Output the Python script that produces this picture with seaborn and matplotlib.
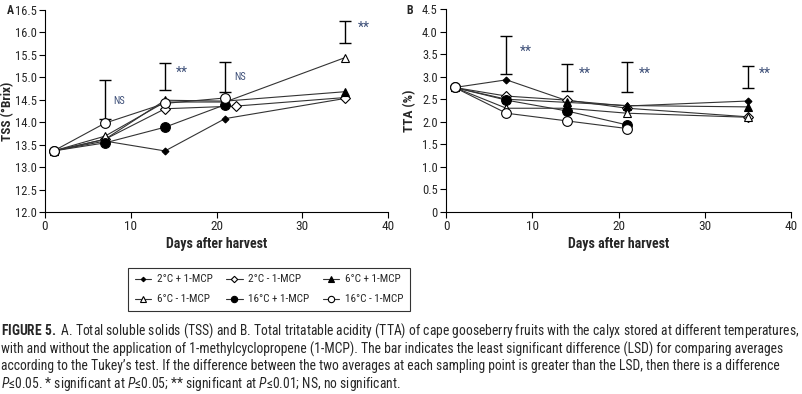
import matplotlib
matplotlib.use("Agg")
import matplotlib.pyplot as plt
import seaborn as sns
import pandas as pd
import numpy as np

# ---------------- data ----------------
labels = ["2°C + 1-MCP", "2°C - 1-MCP", "6°C + 1-MCP",
          "6°C - 1-MCP", "16°C + 1-MCP", "16°C - 1-MCP"]

days_long = [1, 7, 14, 21, 35]
days_short = [1, 7, 14, 21]
days_tss_2m = [1, 7, 14, 22.3, 35]

tss_2p = [13.36, 13.58, 13.36, 14.08, 14.53]
tss_2m = [13.36, 13.62, 14.30, 14.36, 14.55]
tss_6p = [13.36, 13.62, 14.49, 14.47, 14.68]
tss_6m = [13.36, 13.69, 14.45, 14.45, 15.44]
tss_16p = [13.36, 13.54, 13.89, 14.39]
tss_16m = [13.36, 13.98, 14.42, 14.54]

tta_2p = [2.76, 2.93, 2.47, 2.35, 2.46]
tta_2m = [2.76, 2.57, 2.48, 2.30, 2.11]
tta_6p = [2.76, 2.50, 2.43, 2.36, 2.33]
tta_6m = [2.76, 2.30, 2.30, 2.19, 2.10]
tta_16p = [2.76, 2.48, 2.24, 1.93]
tta_16m = [2.76, 2.19, 2.02, 1.85]

lsd_days = [7, 14, 21, 35]
tss_lsd_low = [14.08, 14.71, 14.68, 15.76]
tss_lsd_high = [14.95, 15.31, 15.35, 16.26]
tta_lsd_low = [3.05, 2.68, 2.65, 2.74]
tta_lsd_high = [3.91, 3.28, 3.32, 3.23]

tss_sig = ["NS", "**", "NS", "**"]
tss_sig_x = [8.7, 16.0, 22.8, 37.2]
tss_sig_y = [14.48, 15.10, 15.00, 16.10]
tta_sig = ["**", "**", "**", "**"]
tta_sig_x = [9.2, 16.1, 23.1, 37.0]
tta_sig_y = [3.54, 3.06, 3.06, 3.06]

# ---------------- style ----------------
sns.set_style("ticks")
FONT = 'Roboto Condensed'
plt.rcParams['font.family'] = [FONT, 'DejaVu Sans']
plt.rcParams['mathtext.fontset'] = 'custom'
plt.rcParams['mathtext.rm'] = FONT
plt.rcParams['mathtext.it'] = FONT + ':italic'
plt.rcParams['mathtext.bf'] = FONT + ':bold'

styles = [
    dict(marker="D", ms=3.5, mfc="black", mec="black"),
    dict(marker="D", ms=5, mfc="white", mec="black"),
    dict(marker="^", ms=6, mfc="black", mec="black"),
    dict(marker="^", ms=6, mfc="white", mec="black"),
    dict(marker="o", ms=7, mfc="black", mec="black"),
    dict(marker="o", ms=7, mfc="white", mec="black"),
]

fig = plt.figure(figsize=(8.02, 3.94), dpi=100)
W, H = 802, 394
axA = fig.add_axes([45 / W, 1 - 212 / H, (388 - 45) / W, (212 - 10) / H])
axB = fig.add_axes([446 / W, 1 - 212 / H, (791 - 446) / W, (212 - 9) / H])

tss_series = [(days_long, tss_2p), (days_tss_2m, tss_2m), (days_long, tss_6p),
              (days_long, tss_6m), (days_short, tss_16p), (days_short, tss_16m)]
tta_series = [(days_long, tta_2p), (days_long, tta_2m), (days_long, tta_6p),
              (days_long, tta_6m), (days_short, tta_16p), (days_short, tta_16m)]

handles = []
for ax, series in ((axA, tss_series), (axB, tta_series)):
    for i, ((d, v), st) in enumerate(zip(series, styles)):
        df = pd.DataFrame({"day": d, "val": v})
        sns.lineplot(data=df, x="day", y="val", ax=ax, color="#333333",
                     lw=0.8, marker=st["marker"], markersize=st["ms"],
                     markerfacecolor=st["mfc"], markeredgecolor=st["mec"],
                     markeredgewidth=0.8, zorder=3 + i)
    if ax is axA:
        handles = [ln for ln in ax.get_lines()]

def lsd(ax, low, high):
    low = np.array(low)
    high = np.array(high)
    mid = (low + high) / 2
    ax.errorbar(lsd_days, mid, yerr=(high - low) / 2, fmt="none",
                ecolor="black", elinewidth=1.0, capsize=4, capthick=1.0)

lsd(axA, tss_lsd_low, tss_lsd_high)
lsd(axB, tta_lsd_low, tta_lsd_high)

for t, x, y in zip(tss_sig, tss_sig_x, tss_sig_y):
    axA.text(x, y, t, fontsize=7.5 if t == "NS" else 10, color="#3d4f78",
             ha="center", va="center")
for t, x, y in zip(tta_sig, tta_sig_x, tta_sig_y):
    axB.text(x, y, t, fontsize=10, color="#3d4f78", ha="center", va="center")

for ax in (axA, axB):
    ax.set_xlim(0, 40)
    ax.set_xticks([0, 10, 20, 30, 40])
    ax.set_xlabel("Days after harvest", fontsize=10, fontweight="bold", labelpad=3)
    sns.despine(ax=ax)
    ax.tick_params(axis="x", labelsize=9.5, length=4, width=0.8, color="black", pad=2)
    ax.tick_params(axis="y", labelsize=9, length=4, width=0.8, color="black", pad=2)
    for s in ("left", "bottom"):
        ax.spines[s].set_linewidth(0.8)
        ax.spines[s].set_color("black")
    ax.grid(False)

axA.set_ylim(12, 16.5)
axA.set_yticks(np.arange(12, 16.51, 0.5))
axA.set_yticklabels([f"{v:.1f}" for v in np.arange(12, 16.51, 0.5)])
axA.set_ylabel("TSS (°Brix)", fontsize=9.5, fontweight="bold")
axA.yaxis.set_label_coords(-0.090, 0.5)

axB.set_ylim(0, 4.5)
axB.set_yticks(np.arange(0, 4.51, 0.5))
axB.set_yticklabels(["0"] + [f"{v:.1f}" for v in np.arange(0.5, 4.51, 0.5)])
axB.set_ylabel("TTA (%)", fontsize=9.5, fontweight="bold")
axB.yaxis.set_label_coords(-0.088, 0.5)

fig.text(7 / W, 1 - 10 / H, "A", fontsize=8.5, fontweight="bold", va="center")
fig.text(406 / W, 1 - 10 / H, "B", fontsize=8.5, fontweight="bold", va="center")

order = [0, 3, 1, 4, 2, 5]
leg = fig.legend([handles[i] for i in order], [labels[i] for i in order],
                 ncol=3, loc="center", bbox_to_anchor=(269 / W, 1 - 289.5 / H),
                 frameon=True, fancybox=False, edgecolor="black",
                 fontsize=8, handlelength=1.5, columnspacing=1.2,
                 borderpad=0.6, labelspacing=0.9, handletextpad=0.5,
                 markerscale=0.65)
leg.get_frame().set_linewidth(0.8)

cap = [
    r"$\mathbf{FIGURE\ 5.}$ A. Total soluble solids (TSS) and B. Total tritatable acidity (TTA) of cape gooseberry fruits with the calyx stored at different temperatures,",
    "with and without the application of 1-methylcyclopropene (1-MCP). The bar indicates the least significant difference (LSD) for comparing averages",
    "according to the Tukey’s test. If the difference between the two averages at each sampling point is greater than the LSD, then there is a difference",
    r"$P$≤0.05. * significant at $P$≤0.05; ** significant at $P$≤0.01; NS, no significant.",
]
ys = [331, 349, 366, 384]
texts = [fig.text(1 / W, 1 - y / H, line, fontsize=9.6, va="center", ha="left")
         for line, y in zip(cap, ys)]
r = fig.canvas.get_renderer()
w0 = texts[0].get_window_extent(r).width
fs = 9.6 * 799 / w0
for t in texts:
    t.set_fontsize(fs)

fig.savefig("out.png", dpi=100)
